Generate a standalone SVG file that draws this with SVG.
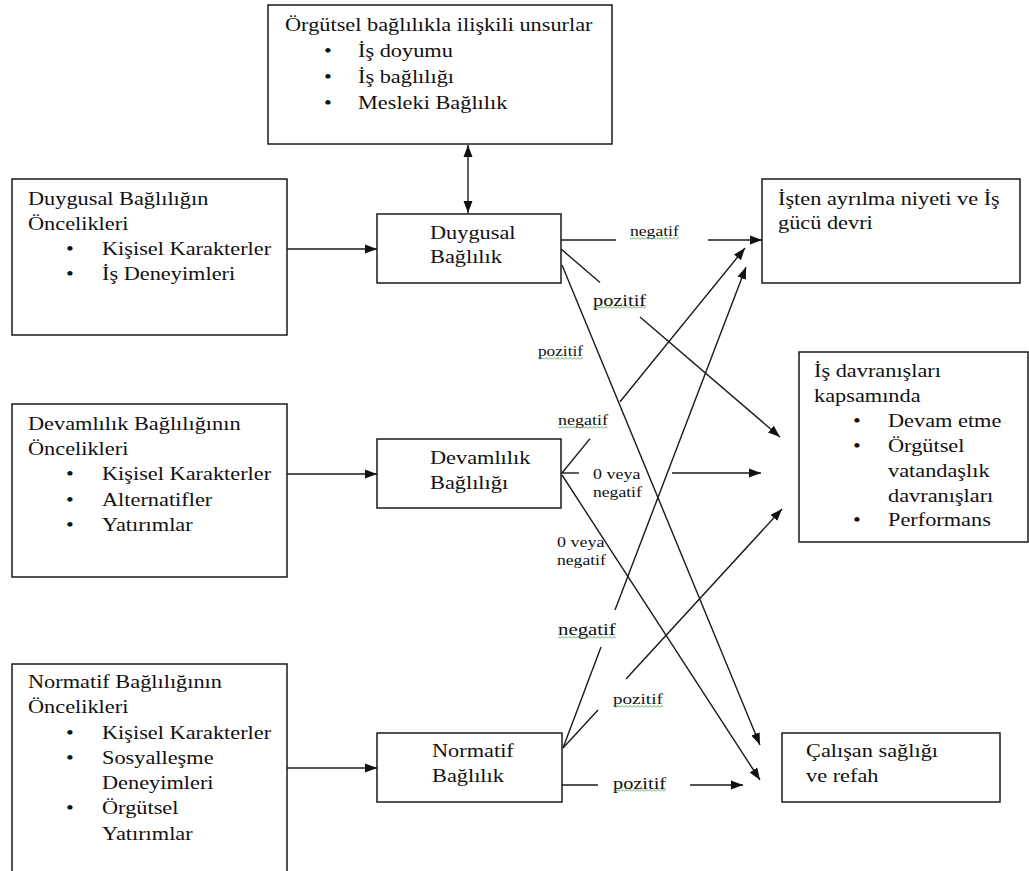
<svg xmlns="http://www.w3.org/2000/svg" width="1029" height="871" viewBox="0 0 1029 871">
<style>
.box{fill:#fff;stroke:#1a1a1a;stroke-width:1.5}
.t{font-family:"Liberation Serif","Times New Roman",serif;font-size:18px;fill:#111}
.l{font-family:"Liberation Serif","Times New Roman",serif;fill:#111}
.ln{stroke:#1a1a1a;stroke-width:1.4;fill:none}
.ar{marker-end:url(#ah)}
.sq{fill:url(#sq)}
</style>
<defs>
<marker id="ah" markerUnits="userSpaceOnUse" markerWidth="13" markerHeight="10" refX="12" refY="5" orient="auto"><path d="M0,0.5 L12,5 L0,9.5 z" fill="#111"/></marker>
<marker id="ah2" markerUnits="userSpaceOnUse" markerWidth="13" markerHeight="10" refX="12" refY="5" orient="auto-start-reverse"><path d="M0,0.5 L12,5 L0,9.5 z" fill="#111"/></marker>
<pattern id="sq" width="4" height="3" patternUnits="userSpaceOnUse"><path d="M0,2.5 L2,0.5 L4,2.5" fill="none" stroke="#4a9f4a" stroke-width="0.9"/></pattern>
</defs>
<rect width="1029" height="871" fill="#fff"/>

<g id="connectors">
<line class="ln" x1="468" y1="145" x2="468" y2="213" marker-start="url(#ah2)" marker-end="url(#ah2)"/>
<line class="ln ar" x1="287" y1="249" x2="377" y2="249"/>
<line class="ln ar" x1="287" y1="474" x2="377" y2="474"/>
<line class="ln ar" x1="287" y1="768" x2="377" y2="768"/>
<!-- Duygusal -> R1 negatif -->
<line class="ln" x1="561" y1="240" x2="616" y2="240"/>
<line class="ln ar" x1="708" y1="240" x2="762" y2="240"/>
<!-- Duygusal -> R2 pozitif -->
<line class="ln" x1="561" y1="249" x2="600" y2="282.5"/>
<line class="ln ar" x1="640" y1="317" x2="780" y2="437"/>
<!-- Duygusal -> R3 pozitif -->
<line class="ln ar" x1="562" y1="265" x2="760" y2="745"/>
<!-- Devamlilik -> R1 negatif -->
<line class="ln" x1="562" y1="473" x2="590" y2="438.6"/>
<line class="ln ar" x1="620" y1="401.7" x2="745" y2="248"/>
<!-- Devamlilik -> R2 -->
<line class="ln" x1="561" y1="473" x2="579" y2="473"/>
<line class="ln ar" x1="672" y1="473" x2="761" y2="473"/>
<!-- Devamlilik -> R3 -->
<line class="ln ar" x1="562" y1="475" x2="760" y2="780"/>
<!-- Normatif -> R1 negatif -->
<line class="ln" x1="563" y1="748" x2="601" y2="647"/>
<line class="ln ar" x1="615" y1="610" x2="746" y2="267"/>
<!-- Normatif -> R2 pozitif -->
<line class="ln" x1="563" y1="748" x2="598" y2="710"/>
<line class="ln ar" x1="626" y1="679" x2="782" y2="509"/>
<!-- Normatif -> R3 pozitif -->
<line class="ln" x1="562" y1="785" x2="598" y2="785"/>
<line class="ln ar" x1="690" y1="785" x2="743" y2="785"/>

<g id="labels">
<text class="l" style="font-size:14.2px" transform="translate(630 236) scale(1.24 1)">negatif</text>
<rect class="sq" x="630" y="237" width="49" height="3"/>
<text class="l" style="font-size:16.4px" transform="translate(593 306) scale(1.24 1)">pozitif</text>
<rect class="sq" x="593" y="306" width="53" height="3"/>
<text class="l" style="font-size:13.9px" transform="translate(538 356) scale(1.24 1)">pozitif</text>
<rect class="sq" x="538" y="357" width="45" height="3"/>
<text class="l" style="font-size:14.5px" transform="translate(558 425) scale(1.24 1)">negatif</text>
<rect class="sq" x="558" y="426" width="50" height="3"/>
<text class="l" style="font-size:14.5px" transform="translate(593 479) scale(1.24 1)">0 veya</text>
<text class="l" style="font-size:14.2px" transform="translate(593 497) scale(1.24 1)">negatif</text>
<text class="l" style="font-size:14.5px" transform="translate(557 547) scale(1.24 1)">0 veya</text>
<text class="l" style="font-size:14.2px" transform="translate(557 565) scale(1.24 1)">negatif</text>
<text class="l" style="font-size:16.8px" transform="translate(558 635) scale(1.24 1)">negatif</text>
<rect class="sq" x="558" y="636" width="58" height="3"/>
<text class="l" style="font-size:15.4px" transform="translate(613 704) scale(1.24 1)">pozitif</text>
<rect class="sq" x="613" y="705" width="50" height="3"/>
<text class="l" style="font-size:16.4px" transform="translate(613 789) scale(1.24 1)">pozitif</text>
<rect class="sq" x="613" y="789" width="53" height="3"/>
</g>
</g>

<g id="node-unsurlar">
<rect class="box" x="268" y="5" width="344" height="139"/>
<text class="t" transform="translate(285 31) scale(1.24 1)">Örgütsel bağlılıkla ilişkili unsurlar</text>
<text class="t" transform="translate(324 57) scale(1.24 1)">•</text>
<text class="t" transform="translate(358 57) scale(1.24 1)">İş doyumu</text>
<text class="t" transform="translate(324 83) scale(1.24 1)">•</text>
<text class="t" transform="translate(358 83) scale(1.24 1)">İş bağlılığı</text>
<text class="t" transform="translate(324 109) scale(1.24 1)">•</text>
<text class="t" transform="translate(358 109) scale(1.24 1)">Mesleki Bağlılık</text>
</g>

<g id="node-duygusal-oncelik">
<rect class="box" x="12" y="179" width="275" height="156"/>
<text class="t" transform="translate(28 205) scale(1.24 1)">Duygusal Bağlılığın</text>
<text class="t" transform="translate(28 230) scale(1.24 1)">Öncelikleri</text>
<text class="t" transform="translate(66 255) scale(1.24 1)">•</text>
<text class="t" transform="translate(102 255) scale(1.24 1)">Kişisel Karakterler</text>
<text class="t" transform="translate(66 280) scale(1.24 1)">•</text>
<text class="t" transform="translate(102 280) scale(1.24 1)">İş Deneyimleri</text>
</g>

<g id="node-devamlilik-oncelik">
<rect class="box" x="12" y="404" width="275" height="173"/>
<text class="t" transform="translate(28 430) scale(1.24 1)">Devamlılık Bağlılığının</text>
<text class="t" transform="translate(28 455) scale(1.24 1)">Öncelikleri</text>
<text class="t" transform="translate(66 480) scale(1.24 1)">•</text>
<text class="t" transform="translate(102 480) scale(1.24 1)">Kişisel Karakterler</text>
<text class="t" transform="translate(66 506) scale(1.24 1)">•</text>
<text class="t" transform="translate(102 506) scale(1.24 1)">Alternatifler</text>
<text class="t" transform="translate(66 531) scale(1.24 1)">•</text>
<text class="t" transform="translate(102 531) scale(1.24 1)">Yatırımlar</text>
</g>

<g id="node-normatif-oncelik">
<rect class="box" x="12" y="664" width="275" height="220"/>
<text class="t" transform="translate(28 688) scale(1.24 1)">Normatif Bağlılığının</text>
<text class="t" transform="translate(28 713) scale(1.24 1)">Öncelikleri</text>
<text class="t" transform="translate(66 739) scale(1.24 1)">•</text>
<text class="t" transform="translate(102 739) scale(1.24 1)">Kişisel Karakterler</text>
<text class="t" transform="translate(66 764) scale(1.24 1)">•</text>
<text class="t" transform="translate(102 764) scale(1.24 1)">Sosyalleşme</text>
<text class="t" transform="translate(102 789) scale(1.24 1)">Deneyimleri</text>
<text class="t" transform="translate(66 814) scale(1.24 1)">•</text>
<text class="t" transform="translate(102 814) scale(1.24 1)">Örgütsel</text>
<text class="t" transform="translate(102 840) scale(1.24 1)">Yatırımlar</text>
</g>

<g id="node-duygusal">
<rect class="box" x="377" y="214" width="184" height="69"/>
<text class="t" transform="translate(430 239) scale(1.24 1)">Duygusal</text>
<text class="t" transform="translate(430 263) scale(1.24 1)">Bağlılık</text>
</g>

<g id="node-devamlilik">
<rect class="box" x="377" y="439" width="184" height="69"/>
<text class="t" transform="translate(430 464) scale(1.24 1)">Devamlılık</text>
<text class="t" transform="translate(430 489) scale(1.24 1)">Bağlılığı</text>
</g>

<g id="node-normatif">
<rect class="box" x="377" y="733" width="185" height="69"/>
<text class="t" transform="translate(432 757) scale(1.24 1)">Normatif</text>
<text class="t" transform="translate(432 782) scale(1.24 1)">Bağlılık</text>
</g>

<g id="node-isten-ayrilma">
<rect class="box" x="762" y="179" width="258" height="104"/>
<text class="t" transform="translate(778 205) scale(1.24 1)">İşten ayrılma niyeti ve İş</text>
<text class="t" transform="translate(778 229) scale(1.24 1)">gücü devri</text>
</g>

<g id="node-is-davranislari">
<rect class="box" x="799" y="352" width="229" height="190"/>
<text class="t" transform="translate(814 377) scale(1.24 1)">İş davranışları</text>
<text class="t" transform="translate(814 402) scale(1.24 1)">kapsamında</text>
<text class="t" transform="translate(853 427) scale(1.24 1)">•</text>
<text class="t" transform="translate(888 427) scale(1.24 1)">Devam etme</text>
<text class="t" transform="translate(853 452) scale(1.24 1)">•</text>
<text class="t" transform="translate(888 452) scale(1.24 1)">Örgütsel</text>
<text class="t" transform="translate(888 477) scale(1.24 1)">vatandaşlık</text>
<text class="t" transform="translate(888 502) scale(1.24 1)">davranışları</text>
<text class="t" transform="translate(853 526) scale(1.24 1)">•</text>
<text class="t" transform="translate(888 526) scale(1.24 1)">Performans</text>
</g>

<g id="node-calisan-sagligi">
<rect class="box" x="782" y="733" width="218" height="69"/>
<text class="t" transform="translate(806 757) scale(1.24 1)">Çalışan sağlığı</text>
<text class="t" transform="translate(806 782) scale(1.24 1)">ve refah</text>
</g>
</svg>
